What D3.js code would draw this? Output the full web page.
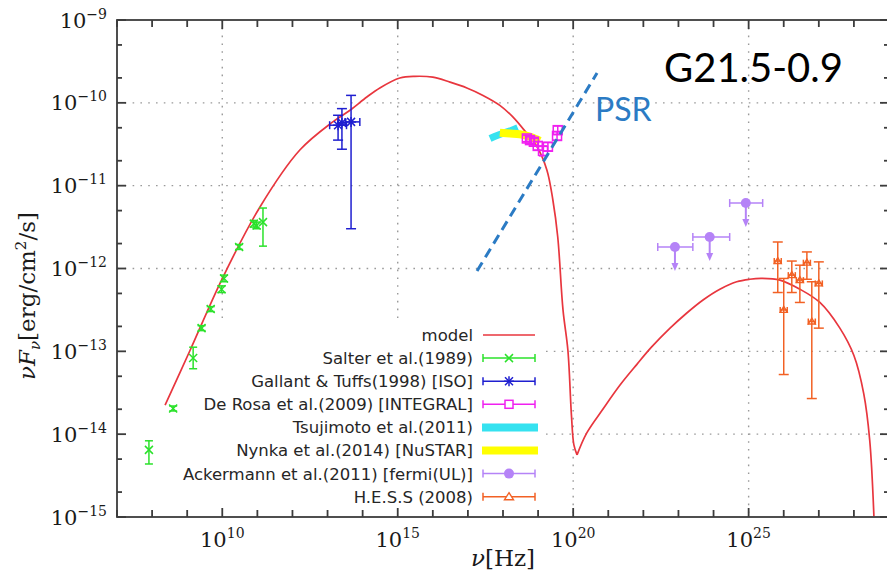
<!DOCTYPE html>
<html>
<head>
<meta charset="utf-8">
<script src="https://cdn.jsdelivr.net/npm/d3@7"></script>
<style>
  html, body { margin: 0; padding: 0; background: #ffffff; }
  svg { display: block; }
</style>
</head>
<body>
<svg id="chart" width="887" height="573"></svg>
<script>
// ---- Spectral energy distribution of G21.5-0.9 (log10 values) ----

// Broadband model curve: log10(nu [Hz]) and log10(nuFnu [erg/cm2/s])
const modelLogNu = [8.37, 9.08, 9.99, 11.07, 12.21, 13.15, 13.64, 14.12, 14.49, 15.06, 15.49, 16.00,
  16.49, 16.97, 17.43, 17.91, 18.28, 18.68, 18.97, 19.25, 19.42, 19.56, 19.71, 19.85, 19.95, 20.02, 20.11,
  20.38, 20.86, 21.33, 21.81, 22.23, 22.76, 23.23, 23.70, 24.18, 24.66, 25.03, 25.37, 25.89, 26.46,
  27.03, 27.60, 28.00, 28.28, 28.45, 28.57];
const modelLogF = [-13.65, -12.99, -12.13, -11.26, -10.57, -10.23, -10.09, -9.93, -9.82, -9.70, -9.68, -9.69,
  -9.75, -9.82, -9.91, -10.03, -10.17, -10.37, -10.53, -10.81, -11.17, -11.62, -12.50, -12.99, -13.77, -14.13, -14.25,
  -13.99, -13.69, -13.41, -13.16, -12.95, -12.72, -12.54, -12.38, -12.25, -12.16, -12.13, -12.12, -12.14, -12.25,
  -12.41, -12.72, -13.05, -13.51, -14.07, -14.99];

// Salter et al. (1989) radio
const salterLogNu = [7.91, 8.60, 9.17, 9.41, 9.67, 9.98, 10.05, 10.48, 10.90, 10.98, 11.16];
const salterLogF  = [-14.19, -13.69, -13.08, -12.72, -12.49, -12.25, -12.12, -11.74, -11.46, -11.48, -11.44];
const salterLogLo = [-14.36, -13.72, -13.21, -12.75, -12.52, -12.29, -12.16, -11.77, -11.50, -11.52, -11.73];
const salterLogHi = [-14.08, -13.66, -12.95, -12.69, -12.46, -12.21, -12.08, -11.71, -11.42, -11.44, -11.27];

// Gallant & Tuffs (1998) [ISO] infrared
const isoLogNu   = [13.30, 13.41, 13.67];
const isoLogNuLo = [13.06, 13.30, 13.50];
const isoLogNuHi = [13.54, 13.52, 13.92];
const isoLogF    = [-10.27, -10.24, -10.23];
const isoLogLo   = [-10.45, -10.56, -11.52];
const isoLogHi   = [-10.15, -10.07, -9.91];

// De Rosa et al. (2009) [INTEGRAL]
const integralLogNu = [18.68, 18.77, 18.88, 18.99, 19.14, 19.28, 19.54, 19.56];
const integralLogF  = [-10.43, -10.45, -10.47, -10.52, -10.58, -10.53, -10.40, -10.33];
const integralLogLo = [-10.47, -10.49, -10.51, -10.57, -10.64, -10.58, -10.45, -10.38];
const integralLogHi = [-10.39, -10.41, -10.43, -10.47, -10.52, -10.48, -10.35, -10.28];

// Tsujimoto et al. (2011) and Nynka et al. (2014) [NuSTAR] spectral bands
const tsujiLogNu = [17.63, 17.85, 18.05, 18.25, 18.42];
const tsujiLogF  = [-10.43, -10.39, -10.36, -10.33, -10.30];
const nustarLogNu = [17.91, 18.20, 18.48, 18.78, 19.05];
const nustarLogF  = [-10.36, -10.37, -10.38, -10.41, -10.46];

// Ackermann et al. (2011) [Fermi upper limits]
const fermiLogNu   = [22.90, 23.89, 24.92];
const fermiLogNuLo = [22.41, 23.41, 24.46];
const fermiLogNuHi = [23.41, 24.46, 25.40];
const fermiLogF    = [-11.74, -11.62, -11.21];

// H.E.S.S. (2008)
const hessLogNu = [25.83, 26.00, 26.23, 26.46, 26.66, 26.80, 27.00];
const hessLogF  = [-11.91, -12.50, -12.08, -12.14, -11.93, -12.64, -12.18];
const hessLogLo = [-12.29, -13.28, -12.29, -12.41, -12.13, -13.57, -12.72];
const hessLogHi = [-11.68, -12.12, -11.91, -11.96, -11.80, -12.16, -11.92];
const hessLogDNu = 0.1;

// Pulsar spectrum guide line
const psrLogNu = [17.26, 20.68];
const psrLogF  = [-12.03, -9.64];

// Axes
const xDecades = d3.range(7, 30);          // 10^7 .. 10^29
const xLabelExps = [10, 15, 20, 25];
const yDecades = d3.range(-15, -8);        // 10^-15 .. 10^-9
const yMinorMult = [2, 5];
const yGridExps = [-10, -11, -12, -13, -14];

const legendLabels = ["model", "Salter et al.(1989)", "Gallant & Tuffs(1998) [ISO]",
  "De Rosa et al.(2009) [INTEGRAL]", "Tsujimoto et al.(2011)", "Nynka et al.(2014) [NuSTAR]",
  "Ackermann et al.(2011) [fermi(UL)]", "H.E.S.S (2008)"];

// ---- drawing ----
const COL = {
  model: "#e8363e", salter: "#2be22b", iso: "#1f1fd0", integral: "#f020f0",
  tsuji: "#35e2f0", nustar: "#ffff00", fermi: "#b583f7", hess: "#f26124",
  psr: "#2b7bc4", frame: "#3c3c3c", grid: "#9a9a9a", text: "#262626"
};

const svg = d3.select("#chart");
const W = 887, H = 573;
const plot = { left: 117, right: 889, top: 20, bottom: 517 };

const x = d3.scaleLog().domain([1e7, 1e29]).range([plot.left, plot.right]);
const y = d3.scaleLog().domain([1e-15, 1e-9]).range([plot.bottom, plot.top]);
const X = e => x(Math.pow(10, e));
const Y = e => y(Math.pow(10, e));

svg.append("rect").attr("width", W).attr("height", H).attr("fill", "#fff");

// grid
const grid = svg.append("g").attr("stroke", COL.grid).attr("stroke-width", 1.4)
  .attr("stroke-dasharray", "1.6,6.2");
xLabelExps.forEach(e => grid.append("line")
  .attr("x1", X(e)).attr("x2", X(e)).attr("y1", plot.top).attr("y2", plot.bottom));
yGridExps.forEach(e => grid.append("line")
  .attr("x1", plot.left).attr("x2", plot.right).attr("y1", Y(e)).attr("y2", Y(e)));

// opaque key area
svg.append("rect").attr("x", plot.left + 1).attr("y", 323)
  .attr("width", 543 - plot.left).attr("height", plot.bottom - 323 - 1).attr("fill", "#fff");

// model curve (split at the synchrotron / inverse-Compton crossing)
const modelPts = modelLogNu.map((v, i) => [X(v), Y(modelLogF[i])]);
const iMin = d3.range(0, modelPts.length).filter(i => modelLogNu[i] > 19.5 && modelLogNu[i] < 21)
  .reduce((a, b) => modelLogF[b] < modelLogF[a] ? b : a);
const curve = d3.line().curve(d3.curveCatmullRom.alpha(0.5));
svg.append("path").attr("d", curve(modelPts.slice(0, iMin + 1)))
  .attr("fill", "none").attr("stroke", COL.model).attr("stroke-width", 1.7);
svg.append("path").attr("d", curve(modelPts.slice(iMin)))
  .attr("fill", "none").attr("stroke", COL.model).attr("stroke-width", 1.7);

// error-bar helpers
function vbar(g, xp, y1, y2, col, cap) {
  g.append("line").attr("x1", xp).attr("x2", xp).attr("y1", y1).attr("y2", y2)
    .attr("stroke", col).attr("stroke-width", 1.5);
  [y1, y2].forEach(yy => g.append("line").attr("x1", xp - cap).attr("x2", xp + cap)
    .attr("y1", yy).attr("y2", yy).attr("stroke", col).attr("stroke-width", 1.5));
}
function hbar(g, x1, x2, yp, col, cap) {
  g.append("line").attr("x1", x1).attr("x2", x2).attr("y1", yp).attr("y2", yp)
    .attr("stroke", col).attr("stroke-width", 1.5);
  [x1, x2].forEach(xx => g.append("line").attr("x1", xx).attr("x2", xx)
    .attr("y1", yp - cap).attr("y2", yp + cap).attr("stroke", col).attr("stroke-width", 1.5));
}
function markCross(g, xp, yp, s, col) {
  g.append("path").attr("d", `M${xp - s},${yp - s}L${xp + s},${yp + s}M${xp - s},${yp + s}L${xp + s},${yp - s}`)
    .attr("stroke", col).attr("stroke-width", 1.5).attr("fill", "none");
}
function markStar(g, xp, yp, s, col) {
  markCross(g, xp, yp, s * 0.8, col);
  g.append("path").attr("d", `M${xp - s},${yp}L${xp + s},${yp}M${xp},${yp - s}L${xp},${yp + s}`)
    .attr("stroke", col).attr("stroke-width", 1.5);
}
function markSquare(g, xp, yp, s, col) {
  g.append("rect").attr("x", xp - s).attr("y", yp - s).attr("width", 2 * s).attr("height", 2 * s)
    .attr("fill", "none").attr("stroke", col).attr("stroke-width", 1.5);
}
function markTri(g, xp, yp, s, col) {
  g.append("path").attr("d", `M${xp},${yp - s}L${xp + s},${yp + s * 0.7}L${xp - s},${yp + s * 0.7}Z`)
    .attr("fill", "none").attr("stroke", col).attr("stroke-width", 1.4);
}
function markDot(g, xp, yp, r, col) {
  g.append("circle").attr("cx", xp).attr("cy", yp).attr("r", r).attr("fill", col);
}

const data = svg.append("g");

// Salter
salterLogNu.forEach((v, i) => {
  vbar(data, X(v), Y(salterLogHi[i]), Y(salterLogLo[i]), COL.salter, 4);
  markCross(data, X(v), Y(salterLogF[i]), 4, COL.salter);
});

// ISO
isoLogNu.forEach((v, i) => {
  vbar(data, X(v), Y(isoLogHi[i]), Y(isoLogLo[i]), COL.iso, 5);
  hbar(data, X(isoLogNuLo[i]), X(isoLogNuHi[i]), Y(isoLogF[i]), COL.iso, 4);
  markStar(data, X(v), Y(isoLogF[i]), 5, COL.iso);
});

// Tsujimoto band and NuSTAR band
const bandLine = d3.line().curve(d3.curveMonotoneX);
data.append("path").attr("d", bandLine(tsujiLogNu.map((v, i) => [X(v), Y(tsujiLogF[i])])))
  .attr("fill", "none").attr("stroke", COL.tsuji).attr("stroke-width", 7);
data.append("path").attr("d", bandLine(nustarLogNu.map((v, i) => [X(v), Y(nustarLogF[i])])))
  .attr("fill", "none").attr("stroke", COL.nustar).attr("stroke-width", 8);

// INTEGRAL
integralLogNu.forEach((v, i) => {
  vbar(data, X(v), Y(integralLogHi[i]), Y(integralLogLo[i]), COL.integral, 4);
  markSquare(data, X(v), Y(integralLogF[i]), 4.5, COL.integral);
});

// Fermi upper limits
const ulLen = 24;
fermiLogNu.forEach((v, i) => {
  const xp = X(v), yp = Y(fermiLogF[i]);
  hbar(data, X(fermiLogNuLo[i]), X(fermiLogNuHi[i]), yp, COL.fermi, 4);
  data.append("line").attr("x1", xp).attr("x2", xp).attr("y1", yp).attr("y2", yp + ulLen - 4)
    .attr("stroke", COL.fermi).attr("stroke-width", 2);
  data.append("path").attr("d", `M${xp - 3.5},${yp + ulLen - 8}L${xp + 3.5},${yp + ulLen - 8}L${xp},${yp + ulLen}Z`)
    .attr("fill", COL.fermi);
  markDot(data, xp, yp, 5, COL.fermi);
});

// H.E.S.S.
hessLogNu.forEach((v, i) => {
  const yp = Y(hessLogF[i]);
  vbar(data, X(v), Y(hessLogHi[i]), Y(hessLogLo[i]), COL.hess, 5);
  hbar(data, X(v - hessLogDNu), X(v + hessLogDNu), yp, COL.hess, 3);
  markTri(data, X(v), yp, 3.5, COL.hess);
});

// PSR guide
svg.append("line").attr("x1", X(psrLogNu[0])).attr("y1", Y(psrLogF[0]))
  .attr("x2", X(psrLogNu[1])).attr("y2", Y(psrLogF[1]))
  .attr("stroke", COL.psr).attr("stroke-width", 3).attr("stroke-dasharray", "10,6");

// legend
const leg = svg.append("g");
const legTextX = 473, legY0 = 335, legDy = 23.1, sx1 = 483, sx2 = 535, smid = 509;
legendLabels.forEach((t, i) => {
  const yy = legY0 + i * legDy;
  leg.append("text").attr("x", legTextX).attr("y", yy).attr("dy", "0.36em")
    .attr("text-anchor", "end").attr("font-family", "DejaVu Sans, Verdana, sans-serif")
    .attr("font-size", 16.5).attr("fill", COL.text).text(t);
});
const ly = i => legY0 + i * legDy;
leg.append("line").attr("x1", sx1).attr("x2", sx2).attr("y1", ly(0)).attr("y2", ly(0))
  .attr("stroke", COL.model).attr("stroke-width", 1.7);
hbar(leg, sx1, sx2, ly(1), COL.salter, 4); markCross(leg, smid, ly(1), 4, COL.salter);
hbar(leg, sx1, sx2, ly(2), COL.iso, 4); markStar(leg, smid, ly(2), 5, COL.iso);
hbar(leg, sx1, sx2, ly(3), COL.integral, 4);
leg.append("rect").attr("x", smid - 4).attr("y", ly(3) - 4).attr("width", 8).attr("height", 8)
  .attr("fill", "#fff").attr("stroke", COL.integral).attr("stroke-width", 1.5);
leg.append("line").attr("x1", sx1 - 1).attr("x2", sx2 + 3).attr("y1", ly(4)).attr("y2", ly(4))
  .attr("stroke", COL.tsuji).attr("stroke-width", 8);
leg.append("line").attr("x1", sx1 - 1).attr("x2", sx2 + 3).attr("y1", ly(5)).attr("y2", ly(5))
  .attr("stroke", COL.nustar).attr("stroke-width", 8);
hbar(leg, sx1, sx2, ly(6), COL.fermi, 4); markDot(leg, smid, ly(6), 5, COL.fermi);
hbar(leg, sx1, sx2, ly(7), COL.hess, 4);
leg.append("path").attr("d", `M${smid},${ly(7) - 4}L${smid + 4.5},${ly(7) + 3}L${smid - 4.5},${ly(7) + 3}Z`)
  .attr("fill", "#fff").attr("stroke", COL.hess).attr("stroke-width", 1.4);

// frame and ticks
const frame = svg.append("g").attr("stroke", COL.frame).attr("stroke-width", 1.8).attr("fill", "none");
frame.append("rect").attr("x", plot.left).attr("y", plot.top)
  .attr("width", plot.right - plot.left).attr("height", plot.bottom - plot.top);
xDecades.forEach(e => {
  const len = xLabelExps.includes(e) ? 9 : 7;
  frame.append("line").attr("x1", X(e)).attr("x2", X(e)).attr("y1", plot.bottom).attr("y2", plot.bottom - len);
  frame.append("line").attr("x1", X(e)).attr("x2", X(e)).attr("y1", plot.top).attr("y2", plot.top + len);
});
yDecades.forEach(e => {
  [[e, 9]].concat(e < -9 ? yMinorMult.map(m => [e + Math.log10(m), 5]) : []).forEach(([v, len]) => {
    frame.append("line").attr("x1", plot.left).attr("x2", plot.left + len).attr("y1", Y(v)).attr("y2", Y(v));
    frame.append("line").attr("x1", plot.right).attr("x2", plot.right - len).attr("y1", Y(v)).attr("y2", Y(v));
  });
});

// tick labels
const serif = "DejaVu Serif, Liberation Serif, serif";
yDecades.forEach(e => {
  const t = svg.append("text").attr("x", 107).attr("y", Y(e) + 7.5).attr("text-anchor", "end")
    .attr("font-family", serif).attr("font-size", 21).attr("fill", "#1a1a1a");
  t.append("tspan").text("10");
  t.append("tspan").attr("dy", -9).attr("font-size", 14).text("\u2212" + Math.abs(e));
});
xLabelExps.forEach(e => {
  const t = svg.append("text").attr("x", X(e)).attr("y", 547).attr("text-anchor", "middle")
    .attr("font-family", serif).attr("font-size", 21).attr("fill", "#1a1a1a");
  t.append("tspan").text("10");
  t.append("tspan").attr("dy", -9).attr("font-size", 14).text(String(e));
});

// axis titles
const xt = svg.append("text").attr("x", 503).attr("y", 566).attr("text-anchor", "middle")
  .attr("font-family", serif).attr("font-size", 23).attr("fill", "#1a1a1a");
xt.append("tspan").attr("font-style", "italic").text("\u03bd");
xt.append("tspan").text("[Hz]");

const yt = svg.append("text").attr("transform", "translate(35,296) rotate(-90)")
  .attr("text-anchor", "middle").attr("font-family", serif).attr("font-size", 23).attr("fill", "#1a1a1a");
yt.append("tspan").attr("font-style", "italic").text("\u03bdF");
yt.append("tspan").attr("font-style", "italic").attr("font-size", 15).attr("dy", 5).text("\u03bd");
yt.append("tspan").attr("dy", -5).text("[erg/cm");
yt.append("tspan").attr("font-size", 15).attr("dy", -9).text("2");
yt.append("tspan").attr("dy", 9).text("/s]");

// annotations
svg.append("text").attr("x", 664).attr("y", 82).attr("font-family", "Lato, Open Sans, sans-serif")
  .attr("font-size", 40).attr("fill", "#000").text("G21.5-0.9");
svg.append("text").attr("x", 595).attr("y", 121).attr("font-family", "Lato, Open Sans, sans-serif")
  .attr("font-size", 32).attr("fill", COL.psr).text("PSR");
</script>
</body>
</html>
